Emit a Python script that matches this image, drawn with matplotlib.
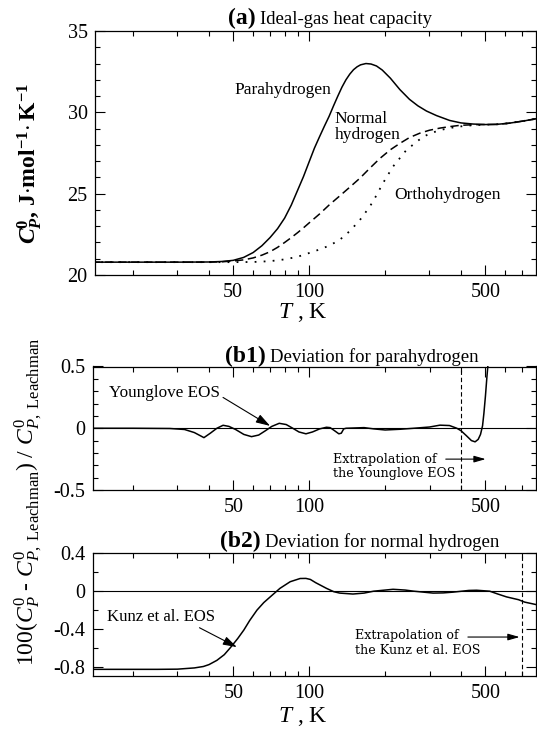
import matplotlib
matplotlib.use('Agg')
import matplotlib.pyplot as plt
from matplotlib.ticker import FixedLocator, FixedFormatter, NullFormatter

# ---------------- data ----------------
# (a) ideal-gas heat capacity, J/(mol K)
T_para = [13.8, 30, 40, 45, 50, 55, 60, 65, 70, 75, 80, 85, 90, 95, 100, 105, 110, 115, 120,
          125, 130, 135, 140, 145, 150, 155, 160, 168, 176, 185, 195, 210, 229, 250, 270, 292,
          320, 361, 400, 447, 500, 553, 620, 716, 790]
cp_para = [20.79, 20.79, 20.80, 20.83, 20.90, 21.08, 21.38, 21.8, 22.3, 22.85, 23.5, 24.3,
           25.2, 26.05, 26.95, 27.8, 28.5, 29.15, 29.75, 30.4, 31.0, 31.55, 32.0, 32.35, 32.62,
           32.8, 32.92, 33.0, 32.97, 32.85, 32.6, 32.1, 31.4, 30.8, 30.4, 30.08, 29.8, 29.5,
           29.35, 29.28, 29.25, 29.26, 29.33, 29.48, 29.6]

T_normal = [13.8, 40, 45, 50, 55, 60, 65, 70, 75, 80, 85, 90, 95, 100, 110, 120, 132, 145,
            159, 175, 191, 210, 229, 250, 275, 300, 330, 360, 396, 450, 500, 553, 620, 716, 790]
cp_normal = [20.79, 20.79, 20.81, 20.86, 20.93, 21.05, 21.22, 21.43, 21.7, 22.0, 22.3, 22.6,
             22.9, 23.2, 23.75, 24.3, 24.85, 25.4, 25.95, 26.6, 27.17, 27.7, 28.09, 28.45,
             28.72, 28.9, 29.03, 29.12, 29.2, 29.24, 29.25, 29.26, 29.33, 29.48, 29.6]

T_ortho = [13.8, 50, 60, 70, 80, 90, 100, 110, 120, 132, 145, 159, 174, 185, 196, 215, 243,
           265, 283, 305, 330, 384, 440, 500, 553, 620, 716, 790]
cp_ortho = [20.79, 20.79, 20.8, 20.85, 20.96, 21.12, 21.35, 21.57, 21.8, 22.15, 22.7, 23.38,
            24.2, 24.9, 25.63, 26.66, 27.68, 28.15, 28.5, 28.72, 28.91, 29.11, 29.2, 29.24,
            29.26, 29.33, 29.48, 29.6]

# (b1) deviation of Younglove EOS for parahydrogen, %
T_b1 = [13.8, 20, 28, 32, 35, 38.2, 40.5, 43, 45.5, 48, 51, 55, 59, 63, 67, 71, 76, 81, 86,
        91, 97, 103, 110, 117, 121, 126, 131, 134, 137, 140, 150, 165, 180, 200, 230, 260,
        300, 330, 360, 385, 400, 420, 440, 455, 468, 478, 487, 493, 500, 507, 512]
dev_b1 = [0.0, 0.0, -0.002, -0.01, -0.035, -0.076, -0.04, 0.0, 0.024, 0.015, -0.01, -0.05,
          -0.068, -0.055, -0.02, 0.015, 0.04, 0.03, 0.0, -0.03, -0.045, -0.03, -0.005, 0.008,
          0.005, -0.02, -0.045, -0.04, -0.005, 0.0, 0.002, 0.005, -0.005, -0.014, -0.008, 0.0,
          0.01, 0.025, 0.022, 0.0, -0.02, -0.06, -0.1, -0.11, -0.09, -0.05, 0.02, 0.12, 0.26,
          0.42, 0.52]

# (b2) deviation of Kunz et al. EOS for normal hydrogen, %
T_b2 = [13.8, 25, 30, 35, 38, 40, 43, 46, 48.5, 52, 55, 58, 62, 66, 70, 76.5, 84, 92, 97, 101,
        106, 117, 125, 132, 149, 165, 180, 215, 240, 260, 310, 340, 372, 430, 461, 520, 560,
        606, 677, 715, 790]
dev_b2 = [-0.825, -0.825, -0.823, -0.81, -0.795, -0.775, -0.73, -0.67, -0.6, -0.5, -0.41, -0.31,
          -0.2, -0.12, -0.06, 0.03, 0.10, 0.134, 0.135, 0.124, 0.09, 0.03, -0.005, -0.02, -0.03,
          -0.02, 0.0, 0.02, 0.012, 0.0, -0.02, -0.018, -0.01, 0.008, 0.01, 0.0, -0.03, -0.06,
          -0.09, -0.115, -0.14]

T_LIMITS_A = (14.1, 790)
T_LIMITS_B = (13.8, 790)
X_MAJOR = [50, 100, 500]
X_LABELS = ['50', '100', '500']
X_MINOR = [20, 30, 40, 60, 70, 80, 90, 200, 300, 400, 600, 700]
T_YOUNGLOVE_MAX = 400
T_KUNZ_MAX = 700

# ---------------- style ----------------
plt.rcParams.update({
    'font.family': ['Liberation Serif', 'DejaVu Serif'],
    'mathtext.fontset': 'custom',
    'mathtext.rm': 'Liberation Serif',
    'mathtext.it': 'Liberation Serif:italic',
    'mathtext.bf': 'Liberation Serif:bold',
    'mathtext.bfit': 'Liberation Serif:bold:italic',
    'axes.unicode_minus': False,
    'axes.linewidth': 0.9,
})

W, H = 537, 735
fig = plt.figure(figsize=(W / 100, H / 100), dpi=100)


def rect(l, t, r, b):
    return [l / W, 1 - b / H, (r - l) / W, (b - t) / H]


def fxy(x, y):
    return x / W, 1 - y / H


axa = fig.add_axes(rect(94.5, 31, 535.5, 275))
axb1 = fig.add_axes(rect(92.5, 366.5, 535.5, 490))
axb2 = fig.add_axes(rect(92.5, 553.3, 535.5, 675.5))


def style_x(ax, lims):
    ax.set_xscale('log')
    ax.set_xlim(*lims)
    ax.xaxis.set_major_locator(FixedLocator(X_MAJOR))
    ax.xaxis.set_major_formatter(FixedFormatter(X_LABELS))
    ax.xaxis.set_minor_locator(FixedLocator(X_MINOR))
    ax.xaxis.set_minor_formatter(NullFormatter())
    ax.tick_params(which='both', direction='in', top=True, right=True, labelsize=14.5)
    ax.tick_params(which='major', length=7, width=0.8)
    ax.tick_params(which='minor', length=3.5, width=0.8)
    ax.tick_params(axis='x', which='major', pad=6)
    ax.tick_params(axis='y', which='major', pad=5)


LW = 1.1
HEAD = '-|>,head_length=0.7,head_width=0.2'
# ---- panel (a)
axa.plot(T_para, cp_para, color='k', lw=LW)
axa.plot(T_normal, cp_normal, color='k', lw=LW, linestyle=(0, (5.5, 3.0)))
axa.plot(T_ortho, cp_ortho, color='k', lw=1.3, linestyle=(0, (1.0, 4.0)))
style_x(axa, T_LIMITS_A)
axa.set_ylim(20, 35)
axa.set_yticks([20, 25, 30, 35])
axa.set_yticks(range(20, 36), minor=True)
axa.text(50.7, 31.4, 'Parahydrogen', fontsize=12.5, ha='left', va='center')
axa.text(126.5, 29.07, 'Normal\nhydrogen', fontsize=12.5, ha='left', va='center',
         linespacing=1.0)
axa.text(218, 24.92, 'Orthohydrogen', fontsize=12.5, ha='left', va='center')

# ---- panel (b1)
axb1.axhline(0, color='k', lw=0.8)
axb1.plot(T_b1, dev_b1, color='k', lw=LW)
axb1.axvline(T_YOUNGLOVE_MAX, color='k', lw=0.8, linestyle=(0, (4, 2.5)))
style_x(axb1, T_LIMITS_B)
axb1.set_ylim(-0.5, 0.5)
axb1.set_yticks([-0.5, 0, 0.5])
axb1.set_yticklabels(['-0.5', '0', '0.5'])
axb1.set_yticks([i / 10 for i in range(-5, 6)], minor=True)
axb1.annotate('Younglove EOS', xy=(69.9, 0.019), xytext=(16.1, 0.289),
              fontsize=12.3, ha='left', va='center',
              arrowprops=dict(arrowstyle='-|>,head_length=0.7,head_width=0.22',
                              color='k', lw=0.8, shrinkA=0, shrinkB=0,
                              relpos=(1.0, 0.3)))
axb1.text(124, -0.2, 'Extrapolation of\nthe Younglove EOS', fontsize=9.1,
          family='DejaVu Serif', ha='left', va='top', linespacing=1.15)
axb1.annotate('', xy=(501, -0.25), xytext=(348, -0.25),
              arrowprops=dict(arrowstyle=HEAD, color='k', lw=0.8, shrinkA=0, shrinkB=0))

# ---- panel (b2)
axb2.axhline(0, color='k', lw=0.8)
axb2.plot(T_b2, dev_b2, color='k', lw=LW)
axb2.axvline(T_KUNZ_MAX, color='k', lw=0.8, linestyle=(0, (4, 2.5)))
style_x(axb2, T_LIMITS_B)
axb2.set_ylim(-0.89, 0.4)
axb2.set_yticks([-0.8, -0.4, 0, 0.4])
axb2.set_yticklabels(['-0.8', '-0.4', '0', '0.4'])
axb2.set_yticks([-0.8, -0.6, -0.4, -0.2, 0, 0.2, 0.4], minor=True)
axb2.annotate('Kunz et al. EOS', xy=(51.6, -0.59), xytext=(15.7, -0.272),
              fontsize=12, ha='left', va='center',
              arrowprops=dict(arrowstyle='-|>,head_length=0.7,head_width=0.22',
                              color='k', lw=0.8, shrinkA=0, shrinkB=0,
                              relpos=(0.81, 0.0)))
axb2.text(152, -0.4, 'Extrapolation of\nthe Kunz et al. EOS', fontsize=9.1,
          family='DejaVu Serif', ha='left', va='top', linespacing=1.15)
axb2.annotate('', xy=(683, -0.484), xytext=(426, -0.484),
              arrowprops=dict(arrowstyle=HEAD, color='k', lw=0.8, shrinkA=0, shrinkB=0))

# ---- titles
fig.text(*fxy(256, 24), '(a)', fontsize=17, fontweight='bold', ha='right', va='baseline')
fig.text(*fxy(260, 24), 'Ideal-gas heat capacity', fontsize=13.5, ha='left', va='baseline')
fig.text(*fxy(266, 362), '(b1)', fontsize=17, fontweight='bold', ha='right', va='baseline')
fig.text(*fxy(270, 362), 'Deviation for parahydrogen', fontsize=13.5, ha='left',
         va='baseline')
fig.text(*fxy(261, 547), '(b2)', fontsize=17, fontweight='bold', ha='right', va='baseline')
fig.text(*fxy(265, 547), 'Deviation for normal hydrogen', fontsize=13.5, ha='left',
         va='baseline')

# ---- axis labels
fig.text(*fxy(303, 312), r'$T$ , K', fontsize=17, ha='center', va='center')
fig.text(*fxy(303, 716), r'$T$ , K', fontsize=17, ha='center', va='center')
fig.text(*fxy(30, 163),
         r'$\mathbfit{C}_{\mathbfit{P}}^{\mathbf{0}}$, J$\cdot$mol$^{\mathbf{-1}}\!\cdot$K$^{\mathbf{-1}}$',
         fontsize=17, fontweight='bold', rotation=90, ha='center', va='center')
fig.text(*fxy(28, 502),
         r'100($C_P^0$ - $C^0_{P,\ \mathrm{Leachman}}$) / $C^0_{P,\ \mathrm{Leachman}}$',
         fontsize=17, rotation=90, ha='center', va='center')

fig.savefig('out.png', dpi=100)
